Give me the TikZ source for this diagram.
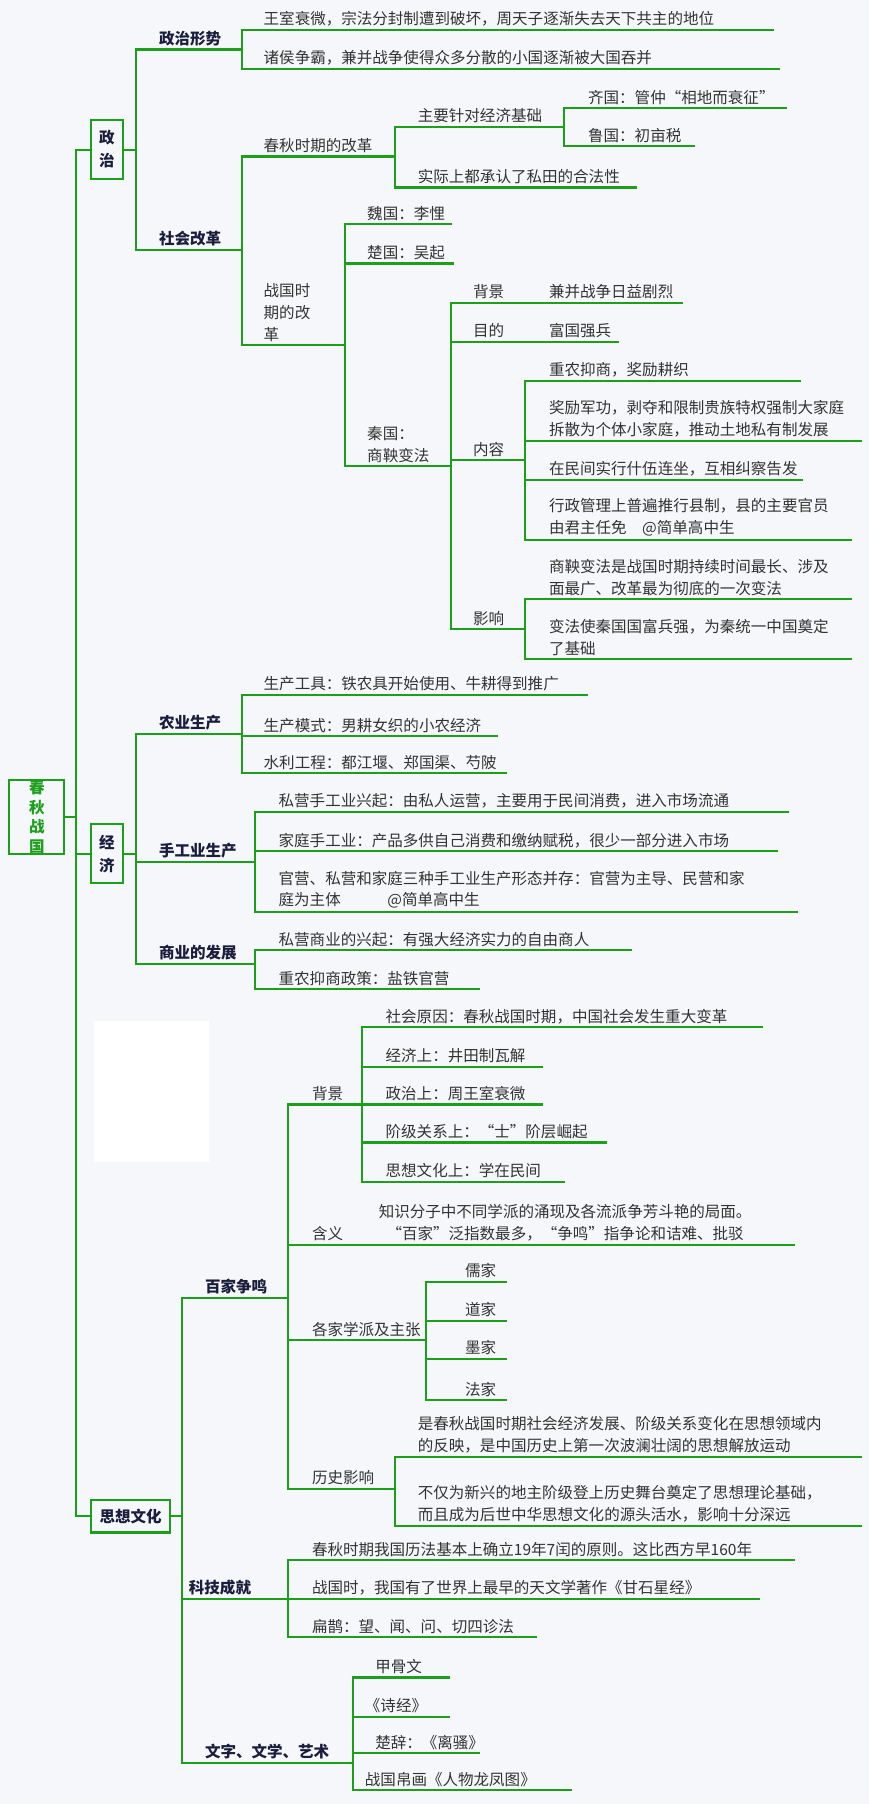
\documentclass[tikz,border=0pt]{standalone}
\usepackage{fontspec}
\setmainfont{Noto Sans CJK SC}
\definecolor{mapgreen}{RGB}{28,160,28}
\definecolor{mapbg}{RGB}{246,247,250}
\definecolor{leafgray}{RGB}{51,51,51}
\definecolor{labelnavy}{RGB}{26,30,60}

\tikzset{
  twigline/.style={draw=mapgreen,line width=1.8pt,line cap=rect},
  leaf/.style={anchor=south west,inner sep=1pt,align=left,text=leafgray,
    font=\fontsize{13.5}{19}\selectfont},
  label/.style={leaf,text=labelnavy,font=\fontsize{13.5}{19}\selectfont\bfseries},
  topicbox/.style={draw=mapgreen,line width=1.8pt,fill=mapbg,align=center,inner sep=0pt,
    text=labelnavy,font=\fontsize{13.5}{19}\selectfont\bfseries}
}
% #1 name, #2 line start, #3 line end, #4 line y, #5 text x, #6 text
\newcommand{\twig}[6]{%
  \draw[twigline] (#2,#4) -- (#3,#4);
  \node[leaf] (#1) at (#5,#4-2) {#6};}
\newcommand{\bough}[6]{%
  \draw[twigline] (#2,#4) -- (#3,#4);
  \node[label] (#1) at (#5,#4-2) {#6};}

\begin{document}
\begin{tikzpicture}[x=1pt,y=-1pt]
  \fill[mapbg] (0,0) rectangle (755,1568);
  \useasboundingbox (0,0) rectangle (755,1568);
  \fill[white] (82,887) rectangle (182,1010);

  % trunk
  \draw[twigline] (66,130) -- (66,1318);
  \node[topicbox,text=mapgreen,minimum width=48pt,minimum height=64pt,font=\fontsize{13.5}{17}\selectfont\bfseries]
    (root) at (32,710) {春\\秋\\战\\国};
  \draw[twigline] (root.east) -- (66,710);

  %% 政治
  \node[topicbox,minimum width=28pt,minimum height=51pt,font=\fontsize{13.5}{20}\selectfont\bfseries]
    (zhengzhi) at (93,130) {政\\治};
  \draw[twigline] (66,130) -- (zhengzhi.west);
  \draw[twigline] (zhengzhi.east) -- (118,130);
  \draw[twigline] (118,43) -- (118,217);
  \bough{xingshi}{118}{210}{43}{137}{政治形势}
  \draw[twigline] (210,26) -- (210,60);
  \twig{wangshi}{210}{672}{26}{228}{王室衰微，宗法分封制遭到破坏，周天子逐渐失去天下共主的地位}
  \twig{zhuhou}{210}{677}{60}{228}{诸侯争霸，兼并战争使得众多分散的小国逐渐被大国吞并}
  \bough{gaige}{118}{210}{217}{137}{社会改革}
  \draw[twigline] (210,136) -- (210,300);
  \twig{chunqiu}{210}{343}{136}{228}{春秋时期的改革}
  \draw[twigline] (343,110) -- (343,163);
  \twig{jingji0}{343}{490}{110}{362}{主要针对经济基础}
  \draw[twigline] (490,94) -- (490,127);
  \twig{qiguo}{490}{683}{94}{510}{齐国：管仲“相地而衰征”}
  \twig{luguo}{490}{603}{127}{510}{鲁国：初亩税}
  \twig{sitian}{343}{553}{163}{362}{实际上都承认了私田的合法性}
  \twig{zhanguo}{210}{300}{300}{228}{战国时\\期的改\\革}
  \draw[twigline] (300,195) -- (300,405);
  \twig{weiguo}{300}{392}{195}{318}{魏国：李悝}
  \twig{chuguo}{300}{394}{229}{318}{楚国：吴起}
  \twig{qinguo}{300}{392}{405}{318}{秦国：\\商鞅变法}
  \draw[twigline] (392,263) -- (392,547);
  \twig{beijing0}{392}{593}{263}{410}{背景}
  \node[leaf] (jianbing) at (476,261) {兼并战争日益剧烈};
  \twig{mudi}{392}{537}{297}{410}{目的}
  \node[leaf] (fuguo) at (476,295) {富国强兵};
  \twig{neirong}{392}{456}{400}{410}{内容}
  \draw[twigline] (456,331) -- (456,469);
  \twig{zhongnong}{456}{695}{331}{476}{重农抑商，奖励耕织}
  \twig{junggong}{456}{748}{383}{476}{奖励军功，剥夺和限制贵族特权强制大家庭\\拆散为个体小家庭，推动土地私有制发展}
  \twig{shiwu}{456}{697}{417}{476}{在民间实行什伍连坐，互相纠察告发}
  \twig{xianzhi}{456}{740}{469}{476}{行政管理上普遍推行县制，县的主要官员\\由君主任免\quad @简单高中生}
  \twig{yingxiang0}{392}{456}{547}{410}{影响}
  \draw[twigline] (456,521) -- (456,573);
  \twig{zuichang}{456}{740}{521}{476}{商鞅变法是战国时期持续时间最长、涉及\\面最广、改革最为彻底的一次变法}
  \twig{fuqiang}{456}{740}{573}{476}{变法使秦国国富兵强，为秦统一中国奠定\\了基础}

  %% 经济
  \node[topicbox,minimum width=28pt,minimum height=51pt,font=\fontsize{13.5}{20}\selectfont\bfseries]
    (jingji) at (93,742) {经\\济};
  \draw[twigline] (66,742) -- (jingji.west);
  \draw[twigline] (jingji.east) -- (118,742);
  \draw[twigline] (118,638) -- (118,838);
  \bough{nongye}{118}{210}{638}{137}{农业生产}
  \draw[twigline] (210,604) -- (210,672);
  \twig{gongju}{210}{510}{604}{228}{生产工具：铁农具开始使用、牛耕得到推广}
  \twig{moshi}{210}{432}{640}{228}{生产模式：男耕女织的小农经济}
  \twig{shuili}{210}{440}{672}{228}{水利工程：都江堰、郑国渠、芍陂}
  \bough{shougong}{118}{222}{749}{137}{手工业生产}
  \draw[twigline] (222,706) -- (222,793);
  \twig{siying}{222}{685}{706}{241}{私营手工业兴起：由私人运营，主要用于民间消费，进入市场流通}
  \twig{jiating}{222}{675}{740}{241}{家庭手工业：产品多供自己消费和缴纳赋税，很少一部分进入市场}
  \twig{guanying}{222}{693}{793}{241}{官营、私营和家庭三种手工业生产形态并存：官营为主导、民营和家\\庭为主体\qquad\quad @简单高中生}
  \bough{shangye}{118}{222}{838}{137}{商业的发展}
  \draw[twigline] (222,826) -- (222,860);
  \twig{shangren}{222}{548}{826}{241}{私营商业的兴起：有强大经济实力的自由商人}
  \twig{yantie}{222}{416}{860}{241}{重农抑商政策：盐铁官营}

  %% 思想文化
  \node[topicbox,minimum width=69pt,minimum height=28pt] (sixiang) at (113.5,1318) {思想文化};
  \draw[twigline] (66,1318) -- (sixiang.west);
  \draw[twigline] (sixiang.east) -- (158,1318);
  \draw[twigline] (158,1128) -- (158,1532);
  \bough{baijia}{158}{250}{1128}{177}{百家争鸣}
  \draw[twigline] (250,960) -- (250,1294);
  \twig{beijing}{250}{315}{960}{270}{背景}
  \draw[twigline] (315,893) -- (315,1027);
  \twig{shehui}{315}{662}{893}{334}{社会原因：春秋战国时期，中国社会发生重大变革}
  \twig{jingtian}{315}{471}{927}{334}{经济上：井田制瓦解}
  \twig{zhoushi}{315}{471}{960}{334}{政治上：周王室衰微}
  \twig{jieji}{315}{527}{993}{334}{阶级关系上：“士”阶层崛起}
  \twig{minjian}{315}{490}{1027}{334}{思想文化上：学在民间}
  \twig{hanyi}{250}{690}{1082}{270}{含义}
  \node[leaf,align=center] (hanyitext) at (328,1080) {知识分子中不同学派的涌现及各流派争芳斗艳的局面。\\“百家”泛指数最多，“争鸣”指争论和诘难、批驳};
  \twig{xuepai}{250}{370}{1165}{270}{各家学派及主张}
  \draw[twigline] (370,1114) -- (370,1217);
  \twig{rujia}{370}{440}{1114}{403}{儒家}
  \twig{daojia}{370}{440}{1148}{403}{道家}
  \twig{mojia}{370}{440}{1181}{403}{墨家}
  \twig{fajia}{370}{440}{1217}{403}{法家}
  \twig{yingxiang}{250}{343}{1294}{270}{历史影响}
  \draw[twigline] (343,1266) -- (343,1326);
  \twig{fanying}{343}{748}{1266}{362}{是春秋战国时期社会经济发展、阶级关系变化在思想领域内\\的反映，是中国历史上第一次波澜壮阔的思想解放运动}
  \twig{yuantou}{343}{748}{1326}{362}{不仅为新兴的地主阶级登上历史舞台奠定了思想理论基础，\\而且成为后世中华思想文化的源头活水，影响十分深远}
  \bough{keji}{158}{250}{1390}{163}{科技成就}
  \draw[twigline] (250,1356) -- (250,1423);
  \twig{lifa}{250}{690}{1356}{270}{春秋时期我国历法基本上确立19年7闰的原则。这比西方早160年}
  \twig{xingjing}{250}{660}{1390}{270}{战国时，我国有了世界上最早的天文学著作《甘石星经》}
  \twig{bianque}{250}{466}{1423}{270}{扁鹊：望、闻、问、切四诊法}
  \bough{wenzi}{158}{307}{1532}{177}{文字、文学、艺术}
  \draw[twigline] (307,1458) -- (307,1556);
  \twig{jiagu}{307}{390}{1458}{325}{甲骨文}
  \twig{shijing}{307}{390}{1492}{316}{《诗经》}
  \twig{chuci}{307}{416}{1524}{325}{楚辞：《离骚》}
  \twig{boohua}{307}{496}{1556}{316}{战国帛画《人物龙凤图》}
\end{tikzpicture}
\end{document}
